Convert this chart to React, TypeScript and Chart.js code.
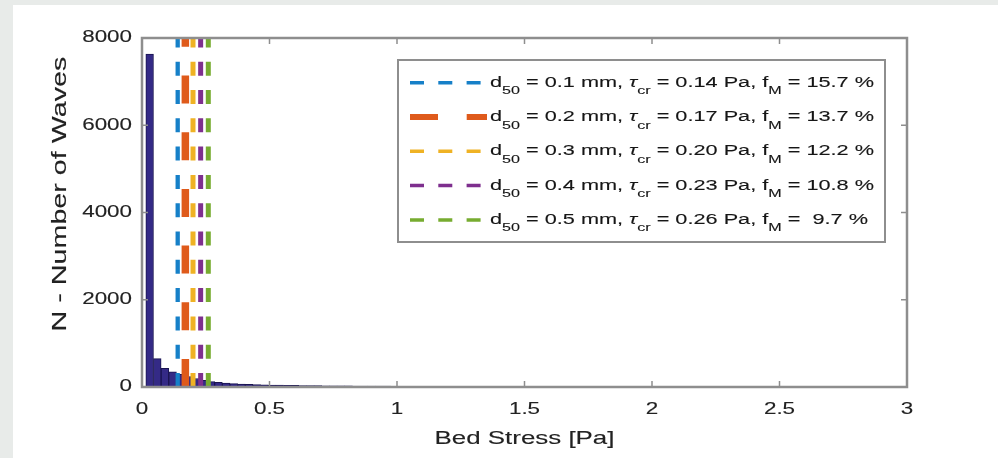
import React, { useEffect, useRef } from "react";
import { Chart, registerables } from "chart.js";

Chart.register(...registerables);

// ---------- data ----------
const binCenters = [
  0.03, 0.06, 0.09, 0.12, 0.15, 0.18, 0.21, 0.24, 0.27, 0.3,
  0.33, 0.36, 0.39, 0.42, 0.45, 0.48, 0.51, 0.54, 0.57, 0.6,
  0.63, 0.66, 0.69, 0.72, 0.75, 0.78, 0.81, 0.84, 0.87, 0.9,
  0.93, 0.96, 0.99, 1.02, 1.05, 1.08, 1.11, 1.14, 1.17, 1.2,
  1.23, 1.26, 1.29, 1.32, 1.35, 1.38, 1.41, 1.44, 1.47, 1.5,
  1.53, 1.56, 1.59, 1.62, 1.65, 1.68, 1.71, 1.74, 1.77, 1.8,
  1.83, 1.86, 1.89, 1.92, 1.95, 1.98, 2.01, 2.04, 2.07, 2.1,
  2.13, 2.16, 2.19, 2.22, 2.25, 2.28,
];
const waveCounts = [
  7630, 650, 430, 350, 290, 240, 195, 155, 125, 105,
  90, 78, 68, 60, 54, 49, 45, 42, 39, 36,
  34, 32, 30, 28, 27, 25, 24, 23, 22, 21,
  20, 19, 18, 17, 17, 16, 15, 15, 14, 13,
  13, 12, 12, 11, 11, 10, 10, 9, 9, 8,
  8, 7, 7, 6, 6, 6, 5, 5, 5, 4,
  4, 4, 3, 3, 3, 3, 2, 2, 2, 2,
  1, 1, 1, 1, 1, 1,
];
const d50 = [0.1, 0.2, 0.3, 0.4, 0.5];
const tauCr = [0.14, 0.17, 0.2, 0.23, 0.26];
const fM = [15.7, 13.7, 12.2, 10.8, 9.7];
const xTickValues = [0, 0.5, 1, 1.5, 2, 2.5, 3];
const yTickValues = [0, 2000, 4000, 6000, 8000];
const xTitle = "Bed Stress [Pa]";
const yTitle = "N - Number of Waves";

// ---------- styles ----------
const seriesColors = ["#1680c8", "#df5a1b", "#efb224", "#7e2f8e", "#77ac30"];
const plotWidths = [4.3, 7.5, 5, 5, 5];
const legendWidths = [3.5, 6, 3.5, 3.5, 3.5];
const dashes = [
  [14, 14.3],
  [28, 28.7],
  [14, 14.3],
  [14, 14.3],
  [14, 14.3],
];
const FONT = '"Liberation Sans", Arial, Helvetica, sans-serif';
const SX = 1.4;
const LEGEND_SX = 1.4;
const AXIS_GRAY = "#8e8e8e";
const TEXT = "#222222";

function txt(
  ctx: CanvasRenderingContext2D,
  text: string,
  x: number,
  y: number,
  size: number,
  align: CanvasTextAlign,
  baseline: CanvasTextBaseline,
  rotate = false,
  color = TEXT,
  italic = false,
  sx = SX
) {
  ctx.save();
  ctx.translate(x, y);
  if (rotate) ctx.rotate(-Math.PI / 2);
  ctx.scale(sx, 1);
  ctx.font = `${italic ? "italic " : ""}${size}px ${FONT}`;
  ctx.fillStyle = color;
  ctx.strokeStyle = color;
  ctx.lineWidth = 0.12;
  ctx.textAlign = align;
  ctx.textBaseline = baseline;
  ctx.fillText(text, 0, 0);
  ctx.strokeText(text, 0, 0);
  ctx.restore();
}

function segWidth(ctx: CanvasRenderingContext2D, text: string, size: number, italic: boolean, sx: number) {
  ctx.save();
  ctx.font = `${italic ? "italic " : ""}${size}px ${FONT}`;
  const w = ctx.measureText(text).width * sx;
  ctx.restore();
  return w;
}

const decorPlugin = {
  id: "decor",
  afterDraw(chart: any) {
    const ctx: CanvasRenderingContext2D = chart.ctx;
    const { left, right, top, bottom } = chart.chartArea;
    const xs = chart.scales.x;
    const ys = chart.scales.y;

    // frame
    ctx.save();
    ctx.strokeStyle = AXIS_GRAY;
    ctx.lineWidth = 2.5;
    ctx.strokeRect(left, top, right - left, bottom - top);
    // inward ticks
    ctx.lineWidth = 1.5;
    const tl = 6;
    ctx.beginPath();
    xs.ticks.forEach((t: any) => {
      const px = xs.getPixelForValue(t.value);
      ctx.moveTo(px, bottom);
      ctx.lineTo(px, bottom - tl);
      ctx.moveTo(px, top);
      ctx.lineTo(px, top + tl);
    });
    ys.ticks.forEach((t: any) => {
      const py = ys.getPixelForValue(t.value);
      ctx.moveTo(left, py);
      ctx.lineTo(left + tl, py);
      ctx.moveTo(right, py);
      ctx.lineTo(right - tl, py);
    });
    ctx.stroke();
    ctx.restore();

    // tick labels
    xs.ticks.forEach((t: any) => {
      const px = xs.getPixelForValue(t.value);
      txt(ctx, String(t.value), px, bottom + 23, 16, "center", "middle");
    });
    ys.ticks.forEach((t: any) => {
      const py = ys.getPixelForValue(t.value);
      txt(ctx, String(t.value), left - 10, py, 16, "right", "middle");
    });

    // axis titles
    txt(ctx, xTitle, (left + right) / 2, 439, 18.5, "center", "middle");
    txt(ctx, yTitle, 60, 194, 20.5, "center", "middle", true);

    // legend
    const bx = 398, by = 60, bw = 487, bh = 182;
    ctx.save();
    ctx.fillStyle = "#ffffff";
    ctx.fillRect(bx, by, bw, bh);
    ctx.strokeStyle = AXIS_GRAY;
    ctx.lineWidth = 2;
    ctx.strokeRect(bx, by, bw, bh);
    ctx.restore();

    const mainSize = 15.5;
    const subSize = 11.5;
    d50.forEach((d, i) => {
      const base = 86.7 + i * 34.3;
      // sample
      ctx.save();
      ctx.strokeStyle = seriesColors[i];
      ctx.lineWidth = legendWidths[i];
      ctx.setLineDash(dashes[i]);
      ctx.lineCap = "butt";
      ctx.beginPath();
      ctx.moveTo(410, base - 4);
      ctx.lineTo(487, base - 4);
      ctx.stroke();
      ctx.restore();

      const segs = [
        { t: "d", sub: false, it: false },
        { t: "50", sub: true, it: false },
        { t: ` = ${d.toFixed(1)} mm, `, sub: false, it: false },
        { t: "\u03C4", sub: false, it: true },
        { t: "cr", sub: true, it: false },
        { t: ` = ${tauCr[i].toFixed(2)} Pa, f`, sub: false, it: false },
        { t: "M", sub: true, it: false },
        { t: ` = ${fM[i] < 10 ? " " : ""}${fM[i].toFixed(1)} %`, sub: false, it: false },
      ];
      let x = 490;
      segs.forEach((s) => {
        const size = s.sub ? subSize : mainSize;
        txt(ctx, s.t, x, s.sub ? base + 7.5 : base, size, "left", "alphabetic", false, "#161616", s.it, LEGEND_SX);
        x += segWidth(ctx, s.t, size, s.it, LEGEND_SX);
      });
    });
  },
};

export default function App() {
  const ref = useRef<HTMLCanvasElement | null>(null);

  useEffect(() => {
    if (!ref.current) return;
    const yMax = yTickValues[yTickValues.length - 1];
    const lineSets = tauCr.map((t, i) => ({
      type: "line" as const,
      label: `d50 = ${d50[i]} mm`,
      data: [
        { x: t, y: 0 },
        { x: t, y: yMax },
      ],
      borderColor: seriesColors[i],
      borderWidth: plotWidths[i],
      borderDash: dashes[i],
      borderCapStyle: "butt" as const,
      pointRadius: 0,
      fill: false,
      order: 1,
    }));
    const barSet = {
      type: "bar" as const,
      label: "N",
      data: binCenters.map((c, i) => ({ x: c, y: waveCounts[i] })),
      backgroundColor: "#342a86",
      borderColor: "#1a1550",
      borderWidth: 1,
      barPercentage: 1,
      categoryPercentage: 1,
      order: 2,
    };

    const chart = new Chart(ref.current, {
      type: "bar",
      data: { datasets: [...lineSets, barSet] as any },
      options: {
        animation: false,
        responsive: false,
        devicePixelRatio: 1,
        layout: { padding: { left: 142, right: 91, top: 38, bottom: 71 } },
        plugins: { legend: { display: false }, tooltip: { enabled: false } },
        scales: {
          x: {
            type: "linear",
            min: xTickValues[0],
            max: xTickValues[xTickValues.length - 1],
            offset: false,
            grid: { display: false },
            border: { display: false },
            ticks: { display: false },
            afterBuildTicks: (s: any) => {
              s.ticks = xTickValues.map((v) => ({ value: v }));
            },
            afterFit: (s: any) => {
              s.height = 0;
            },
          },
          y: {
            type: "linear",
            min: yTickValues[0],
            max: yTickValues[yTickValues.length - 1],
            grid: { display: false },
            border: { display: false },
            ticks: { display: false },
            afterBuildTicks: (s: any) => {
              s.ticks = yTickValues.map((v) => ({ value: v }));
            },
            afterFit: (s: any) => {
              s.width = 0;
            },
          },
        },
      },
      plugins: [decorPlugin],
    });
    return () => chart.destroy();
  }, []);

  return (
    <div
      style={{
        position: "absolute",
        left: 0,
        top: 0,
        width: 998,
        height: 458,
        background: "#e8ebe9",
        overflow: "hidden",
      }}
    >
      <div style={{ position: "absolute", left: 13, top: 5, right: 0, bottom: 0, background: "#ffffff" }} />
      <canvas ref={ref} width={998} height={458} style={{ position: "absolute", left: 0, top: 0 }} />
    </div>
  );
}
